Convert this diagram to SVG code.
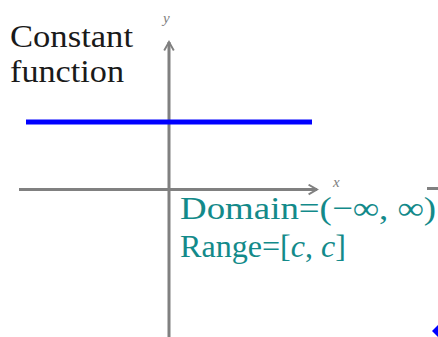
<svg xmlns="http://www.w3.org/2000/svg" width="438" height="337" viewBox="0 0 438 337">
<style>
.axis{stroke:#808080;stroke-width:3;fill:none}
.lbl{font-family:"Liberation Serif","DejaVu Serif",serif;font-size:32px;fill:#1a1a1a}
.math{font-family:"Liberation Serif","DejaVu Serif",serif;font-size:32px;fill:#138a8a}
.ax{font-family:"Liberation Serif","DejaVu Serif",serif;font-style:italic;font-size:15px;fill:#808080}
</style>
<defs>
<marker id="arr" viewBox="0 0 10 10" refX="8" refY="5" markerWidth="4" markerHeight="4" orient="auto" markerUnits="strokeWidth">
<path d="M1,1 L8,5 L1,9" fill="none" stroke="#808080" stroke-width="1.6"/>
</marker>
</defs>
<g id="connectors">
<line class="axis" x1="19" y1="189.5" x2="317" y2="189.5" marker-end="url(#arr)"/>
<line class="axis" x1="169" y1="337" x2="169" y2="42" marker-end="url(#arr)"/>
<line class="axis" x1="427" y1="188.5" x2="438" y2="188.5"/>
</g>
<g id="graph">
<line x1="26" y1="122" x2="312" y2="122" stroke="#0000ff" stroke-width="5"/>
<polygon points="432,331 438,325 438,337" fill="#0000ff"/>
</g>
<g id="labels">
<text class="lbl" x="10" y="47" textLength="123" lengthAdjust="spacingAndGlyphs">Constant</text>
<text class="lbl" x="10" y="82" textLength="114" lengthAdjust="spacingAndGlyphs">function</text>
<text class="ax" x="163" y="23">y</text>
<text class="ax" x="333" y="187">x</text>
<text class="math" x="180" y="219" textLength="256" lengthAdjust="spacingAndGlyphs">Domain=(−∞, ∞)</text>
<text class="math" x="180" y="257" textLength="166" lengthAdjust="spacingAndGlyphs">Range=[<tspan font-style="italic">c</tspan>, <tspan font-style="italic">c</tspan>]</text>
</g>
</svg>
